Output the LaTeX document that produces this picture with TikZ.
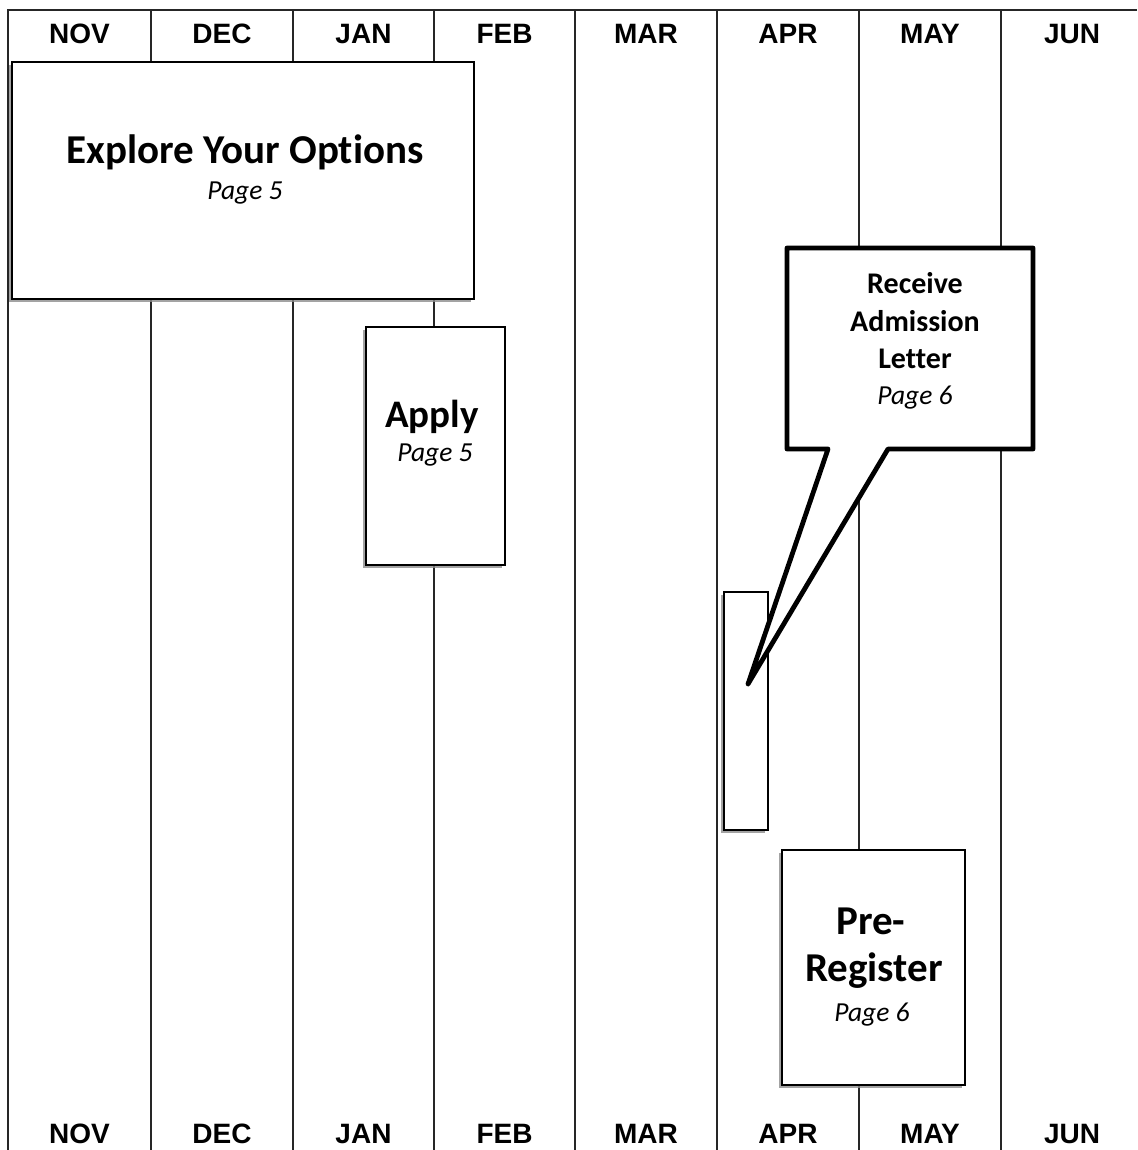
\documentclass[tikz,border=0pt]{standalone}
\usepackage{fontspec}
\setmainfont{Carlito}[Ligatures=NoCommon]
\newfontfamily\monthfont{Liberation Sans}
\usetikzlibrary{shadows}
\begin{document}
\begin{tikzpicture}[x=1pt,y=-1pt,
  gridline/.style={line width=1.3pt,black!85},
  month/.style={font=\monthfont\bfseries\fontsize{28}{32}\selectfont,anchor=base,inner sep=0pt},
  boxshadow/.style={drop shadow={shadow xshift=-3pt,shadow yshift=-3pt,fill=black!45,opacity=0.8}},
  taskbox/.style={draw=black,line width=2.6pt,fill=white,inner sep=0pt,boxshadow},
  title/.style={font=\bfseries\fontsize{#1}{#1}\selectfont,anchor=base,inner sep=0pt},
  pageref/.style={font=\itshape\fontsize{27.5}{27.5}\selectfont,anchor=base,inner sep=0pt},
  calloutline/.style={draw=black,line width=4.8pt,fill=white,line join=round}
]
\useasboundingbox (0,0) rectangle (1137,1150);
\fill[white] (0,0) rectangle (1137,1150);

% grid
\draw[gridline] (1137,10) -- (8,10) -- (8,1150);
\foreach \xx in {151,293,434,575,717,859,1001}
  \draw[gridline] (\xx,10) -- (\xx,1150);

% month labels
\foreach \cx/\m [count=\i] in {79.5/NOV,222/DEC,363.5/JAN,504.5/FEB,646/MAR,788/APR,930/MAY,1072/JUN}{
  \node[month] (top\i) at (\cx,44) {\m};
  \node[month] (bot\i) at (\cx,1143) {\m};
}

% Explore box
\node[taskbox,minimum width=462pt,minimum height=237pt] (explore) at (243,180.5) {};
\node[title=41] (exploreT) at (245,164) {Explore Your Options};
\node[pageref] (exploreP) at (245,200) {Page 5};

% Apply box
\node[taskbox,minimum width=139pt,minimum height=238pt] (apply) at (435.5,446) {};
\node[title=39] (applyT) at (432,427) {Apply};
\node[pageref] (applyP) at (435,461) {Page 5};

% small admission bar
\node[draw=black,line width=2pt,fill=white,inner sep=0pt,minimum width=44pt,minimum height=238pt,boxshadow] (admitbar) at (746,711) {};
\coordinate (tip) at (748,684);

% Pre-Register box
\node[taskbox,minimum width=183pt,minimum height=235pt] (prereg) at (873.5,967.5) {};
\node[title=41] (preT1) at (871,934) {Pre-};
\node[title=41] (preT2) at (874,981) {Register};
\node[pageref] (preP) at (872,1021) {Page 6};

% callout
\coordinate (cTL) at (787,248);
\coordinate (cTR) at (1033,248);
\coordinate (cBR) at (1033,449);
\coordinate (cBL) at (787,449);
\coordinate (tailR) at (888,449);
\coordinate (tailL) at (828,449);
\draw[calloutline] (cTL) -- (cTR) -- (cBR) -- (tailR) -- (tip) -- (tailL) -- (cBL) -- cycle;
\node[title=30] (recv1) at (915,293) {Receive};
\node[title=30] (recv2) at (915,331) {Admission};
\node[title=30] (recv3) at (915,368) {Letter};
\node[pageref] (recvP) at (915,404) {Page 6};
\end{tikzpicture}
\end{document}
